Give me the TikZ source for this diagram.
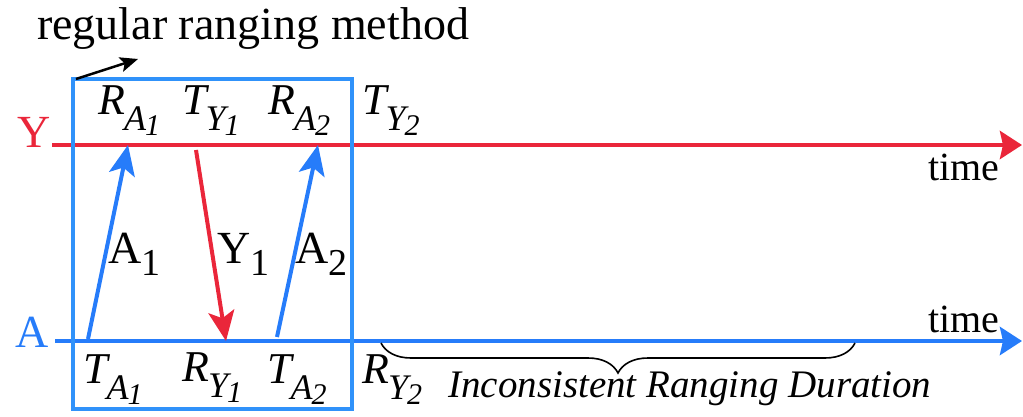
\documentclass[tikz,border=0pt]{standalone}
\usepackage{fontspec}
\setmainfont{Liberation Serif}
\usetikzlibrary{arrows.meta,decorations.pathreplacing}
\definecolor{myred}{RGB}{234,38,58}
\definecolor{myblue}{RGB}{38,124,250}
\definecolor{boxblue}{RGB}{48,146,250}
\newcommand\fs[1]{\fontsize{#1}{#1}\selectfont}
\newcommand\ilab[3]{\fs{44}\itshape #1\kern-1pt\raisebox{-16pt}{\fs{36}#2\kern-1pt\raisebox{-5pt}{\fs{30}#3}}}
\newcommand\ulab[2]{\fs{46}#1\raisebox{-12pt}{\fs{38}#2}}
\begin{document}
\begin{tikzpicture}[x=1pt,y=-1pt,
  lbl/.style={inner sep=0pt,anchor=base west},
  tline/.style={line width=4.5pt,-{Stealth[length=22pt,width=28pt,inset=3pt]}},
  msg/.style={line width=4pt,-{Stealth[length=30pt,width=26pt,inset=7pt]}}]
\useasboundingbox (0,0) rectangle (1023,417);
% time lines
\coordinate (ys) at (52,145);
\coordinate (ye) at (1022,145);
\coordinate (as) at (55,341);
\coordinate (ae) at (1022,341);
\draw[tline,myred] (ys) -- (ye);
\draw[tline,myblue] (as) -- (ae);
% messages
\coordinate (a1s) at (88,339);
\coordinate (a1e) at (128,145);
\coordinate (y1s) at (196,150);
\coordinate (y1e) at (226,341);
\coordinate (a2s) at (277,337);
\coordinate (a2e) at (318,145);
\draw[msg,myblue] (a1s) -- (a1e);
\draw[msg,myred] (y1s) -- (y1e);
\draw[msg,myblue] (a2s) -- (a2e);
% box
\draw[boxblue,line width=4pt] (73,79) rectangle (352,409);
% title arrow
\coordinate (bs) at (76,79);
\coordinate (be) at (138,59);
\draw[line width=2.5pt,-{Stealth[length=18pt,width=15pt,inset=4pt]}] (bs) -- (be);
\node[lbl] (title) at (37,40) {\fs{46}regular ranging method};
% axis labels
\node[lbl,text=myred] (Y) at (17,148) {\fs{46}Y};
\node[lbl,text=myblue] (A) at (15,347) {\fs{46}A};
\node[lbl] (t1) at (928,180) {\fs{40}time};
\node[lbl] (t2) at (928,332) {\fs{40}time};
% event labels
\node[lbl] (ra1) at (98,115) {\ilab{R}{A}{1}};
\node[lbl] (ty1) at (182,115) {\ilab{T}{Y}{1}};
\node[lbl] (ra2) at (268,115) {\ilab{R}{A}{2}};
\node[lbl] (ty2) at (362,115) {\ilab{T}{Y}{2}};
\node[lbl] (ta1) at (83,383) {\ilab{T}{A}{1}};
\node[lbl] (ry1) at (182,381) {\ilab{R}{Y}{1}};
\node[lbl] (ta2) at (267,383) {\ilab{T}{A}{2}};
\node[lbl] (ry2) at (362,383) {\ilab{R}{Y}{2}};
% message labels
\node[lbl] (A1) at (108,263) {\ulab{A}{1}};
\node[lbl] (Y1) at (217,263) {\ulab{Y}{1}};
\node[lbl] (A2) at (295,263) {\ulab{A}{2}};
% brace
\coordinate (b1) at (381,343);
\coordinate (b2) at (855,343);
\draw[line width=1.6pt,decorate,decoration={brace,mirror,amplitude=30pt}] (b1) -- (b2);
\node[lbl] (inc) at (448,397) {\fs{39}\itshape Inconsistent Ranging Duration};
\end{tikzpicture}
\end{document}
